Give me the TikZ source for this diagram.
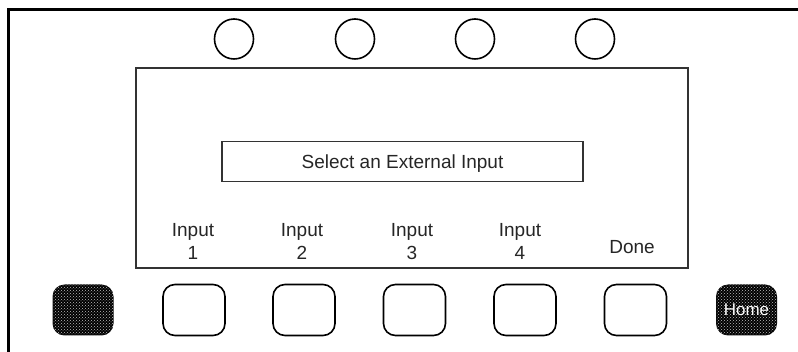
\documentclass[tikz,border=0pt]{standalone}
\usepackage{fontspec}
\setmainfont{Liberation Sans}
\usetikzlibrary{patterns,shapes.geometric}
\begin{document}
\begin{tikzpicture}[x=1pt,y=-1pt,
  lbl/.style={font=\fontsize{19}{23}\selectfont, inner sep=0pt, align=center, text=black!85},
  knob/.style={draw, line width=1.6pt, ellipse, minimum width=39pt, minimum height=40pt, inner sep=0pt},
  softkey/.style={draw, line width=1.6pt, rounded corners=12pt, minimum width=62pt, minimum height=51pt, inner sep=0pt},
  darkkey/.style={fill=black, rounded corners=12pt, minimum width=61pt, minimum height=51pt, inner sep=0pt,
     postaction={pattern=crosshatch dots, pattern color=white!75!black}},
  panel/.style={draw=black!80, line width=1.4pt}
]
\useasboundingbox (0,0) rectangle (798,352);
% outer frame
\coordinate (fbl) at (8.5,352);
\coordinate (ftl) at (8.5,10);
\coordinate (ftr) at (798,10);
\draw[line width=3pt] (fbl) -- (ftl) -- (ftr);
% knobs
\node[knob] (k1) at (234,39) {};
\node[knob] (k2) at (355,39) {};
\node[knob] (k3) at (475,39) {};
\node[knob] (k4) at (595,39) {};
% screen
\node[panel, minimum width=552pt, minimum height=200pt, inner sep=0pt] (scr) at (412,168) {};
\node[panel, minimum width=361pt, inner sep=0pt, text height=13.6pt, text depth=0pt, minimum height=40pt,
      font=\fontsize{19}{23}\selectfont, text=black!85] (msg) at (402.5,161.3) {Select an External Input};
% labels
\node[lbl] (l1) at (193,241.5) {Input\\1};
\node[lbl] (l2) at (302,241.5) {Input\\2};
\node[lbl] (l3) at (412,241.5) {Input\\3};
\node[lbl] (l4) at (520,241.5) {Input\\4};
\node[lbl, anchor=base] (ld) at (632,254) {Done};
% keys
\node[darkkey] (b0) at (83,310) {};
\node[softkey] (b1) at (194,310) {};
\node[softkey] (b2) at (304,310) {};
\node[softkey] (b3) at (414.5,310) {};
\node[softkey] (b4) at (525,310) {};
\node[softkey] (b5) at (635.5,310) {};
\node[darkkey] (bh) at (746.5,310) {};
\node[font=\fontsize{17}{20}\selectfont, text=white, inner sep=0pt, text height=12.5pt, text depth=0pt] (home) at (746.5,309) {Home};
\end{tikzpicture}
\end{document}
